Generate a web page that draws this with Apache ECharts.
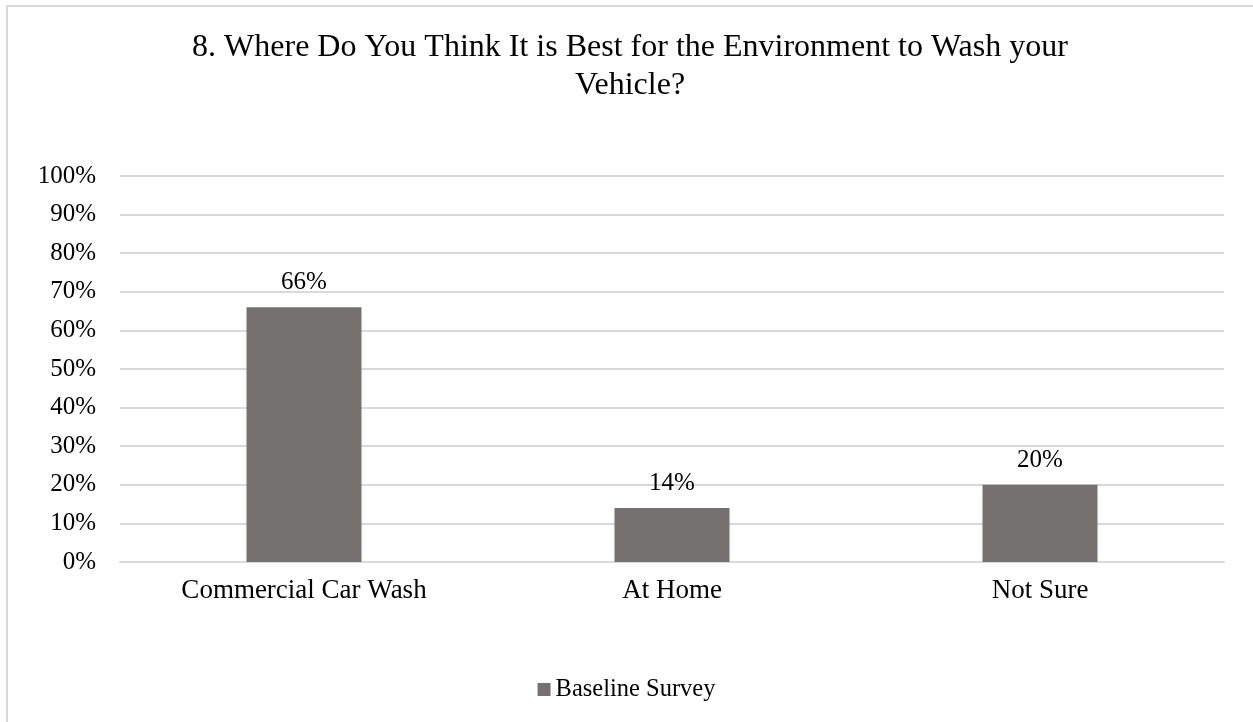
<!DOCTYPE html>
<html>
<head>
<meta charset="utf-8">
<script src="https://cdn.jsdelivr.net/npm/echarts@6/dist/echarts.min.js"></script>
<style>
  html, body { margin: 0; padding: 0; background: #fff; overflow: hidden; }
  #frame { position: absolute; left: 6px; top: 5px; width: 1400px; height: 900px;
           border: 2px solid #d9d9d9; box-sizing: border-box; }
  #chart { position: absolute; left: 0; top: 0; width: 1253px; height: 722px; }
</style>
</head>
<body>
<div id="frame"></div>
<div id="chart"></div>
<script>
// Survey question and answers
const chartTitle = '8. Where Do You Think It is Best for the Environment to Wash your\nVehicle?';
const categories = ['Commercial Car Wash', 'At Home', 'Not Sure'];
const seriesName = 'Baseline Survey';
const baselineValues = [66, 14, 20];
const yTicks = { min: 0, max: 100, interval: 10 };

const serif = '"Liberation Serif", "Times New Roman", serif';
const chart = echarts.init(document.getElementById('chart'), null, { renderer: 'canvas' });

chart.setOption({
  backgroundColor: 'transparent',
  animation: false,
  title: {
    text: chartTitle,
    left: 625,
    top: 24,
    textAlign: 'center',
    textStyle: { fontFamily: serif, fontSize: 32, fontWeight: 'normal', color: '#000', lineHeight: 38 }
  },
  grid: { left: 120, right: 29, top: 176, bottom: 160, containLabel: false },
  legend: {
    data: [seriesName],
    bottom: 15,
    left: 'center',
    itemWidth: 13,
    itemHeight: 13,
    itemGap: 6,
    icon: 'rect',
    textStyle: { fontFamily: serif, fontSize: 24.5, color: '#000' }
  },
  xAxis: {
    type: 'category',
    data: categories,
    axisLine: { show: true, lineStyle: { color: '#d9d9d9', width: 2 } },
    axisTick: { show: false },
    axisLabel: { fontFamily: serif, fontSize: 27, color: '#000', margin: 15 }
  },
  yAxis: {
    type: 'value',
    min: yTicks.min,
    max: yTicks.max,
    interval: yTicks.interval,
    axisLine: { show: false },
    axisTick: { show: false },
    splitLine: { lineStyle: { color: '#d9d9d9', width: 2 } },
    axisLabel: { fontFamily: serif, fontSize: 25, color: '#000', margin: 24, formatter: v => v + '%' }
  },
  series: [{
    name: seriesName,
    type: 'bar',
    data: baselineValues,
    barWidth: 115,
    itemStyle: { color: '#767171' },
    label: {
      show: true,
      position: 'top',
      distance: 12,
      formatter: p => p.value + '%',
      fontFamily: serif,
      fontSize: 25,
      color: '#000'
    }
  }]
});
</script>
</body>
</html>
